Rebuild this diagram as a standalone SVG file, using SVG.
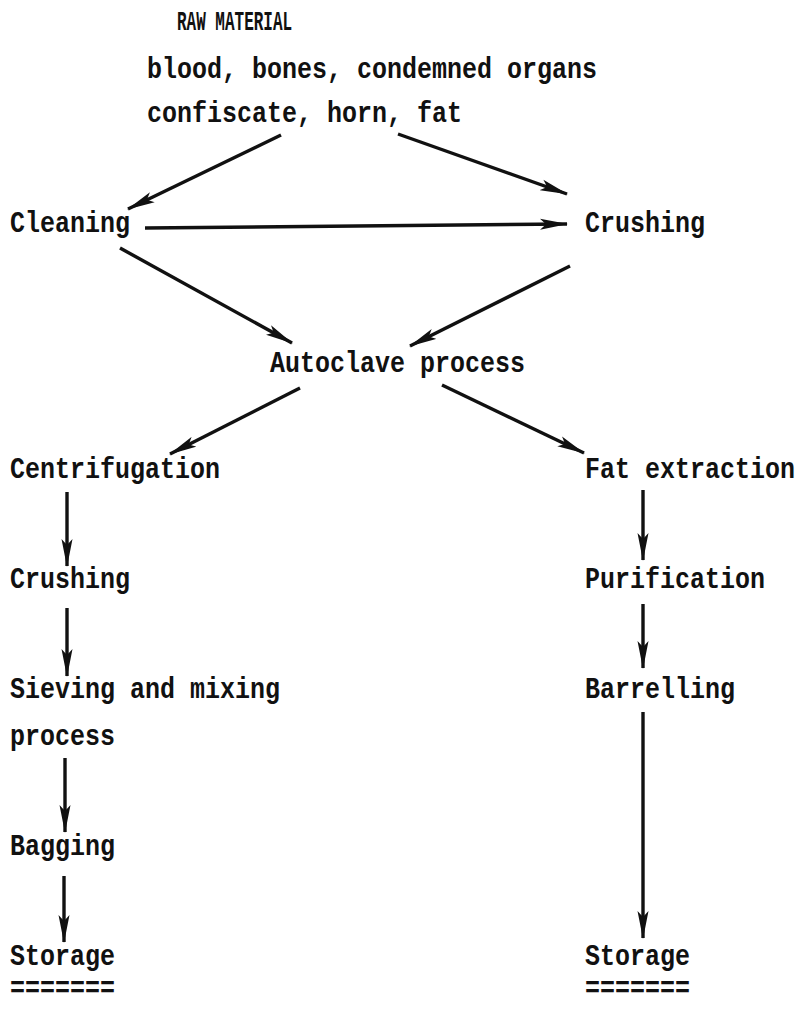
<svg xmlns="http://www.w3.org/2000/svg" width="799" height="1025" viewBox="0 0 799 1025">
<style>
text{font-family:"Liberation Mono","DejaVu Sans Mono",monospace;font-weight:bold;font-size:25px;fill:#111}
.h{font-size:16px}
.c line{stroke:#111;stroke-width:3.4;fill:none;marker-end:url(#ah)}
</style>
<defs>
<marker id="ah" viewBox="0 0 28 12" refX="27" refY="6" markerWidth="28" markerHeight="12" markerUnits="userSpaceOnUse" orient="auto">
<path d="M0,0.5 L28,6 L0,11.5 L6,6 z" fill="#111"/>
</marker>
</defs>
<rect width="799" height="1025" fill="#fff"/>
<g id="title" transform="scale(1,1.7)">
<text class="h" x="177" y="17.6">RAW MATERIAL</text>
</g>
<g transform="scale(1,1.2)">
<g id="raw">
<text x="147" y="65">blood, bones, condemned organs</text>
<text x="147" y="101.7">confiscate, horn, fat</text>
</g>
<g id="cleaning"><text x="10" y="193.3">Cleaning</text></g>
<g id="crushing1"><text x="585" y="193.3">Crushing</text></g>
<g id="autoclave"><text x="270" y="310">Autoclave process</text></g>
<g id="centrifugation"><text x="10" y="398.3">Centrifugation</text></g>
<g id="fatextraction"><text x="585" y="398.3">Fat extraction</text></g>
<g id="crushing2"><text x="10" y="490">Crushing</text></g>
<g id="purification"><text x="585" y="490">Purification</text></g>
<g id="sieving">
<text x="10" y="581.7">Sieving and mixing</text>
<text x="10" y="620.8">process</text>
</g>
<g id="barrelling"><text x="585" y="581.7">Barrelling</text></g>
<g id="bagging"><text x="10" y="712.5">Bagging</text></g>
<g id="storage1">
<text x="10" y="804.2">Storage</text>
<text x="10" y="831">=======</text>
</g>
<g id="storage2">
<text x="585" y="804.2">Storage</text>
<text x="585" y="831">=======</text>
</g>
</g>
<g id="connectors" class="c">
<line x1="281" y1="135" x2="128" y2="209"/>
<line x1="398" y1="134" x2="567" y2="194"/>
<line x1="145" y1="228" x2="567" y2="224"/>
<line x1="120" y1="248" x2="292" y2="343"/>
<line x1="570" y1="266" x2="410" y2="346"/>
<line x1="300" y1="388" x2="170" y2="454"/>
<line x1="442" y1="385" x2="584" y2="453"/>
<line x1="67" y1="492" x2="67" y2="566"/>
<line x1="67" y1="608" x2="67" y2="676"/>
<line x1="65" y1="758" x2="65" y2="832"/>
<line x1="64" y1="876" x2="64" y2="942"/>
<line x1="643" y1="490" x2="643" y2="560"/>
<line x1="643" y1="604" x2="643" y2="668"/>
<line x1="643" y1="712" x2="643" y2="938"/>
</g>
</svg>
